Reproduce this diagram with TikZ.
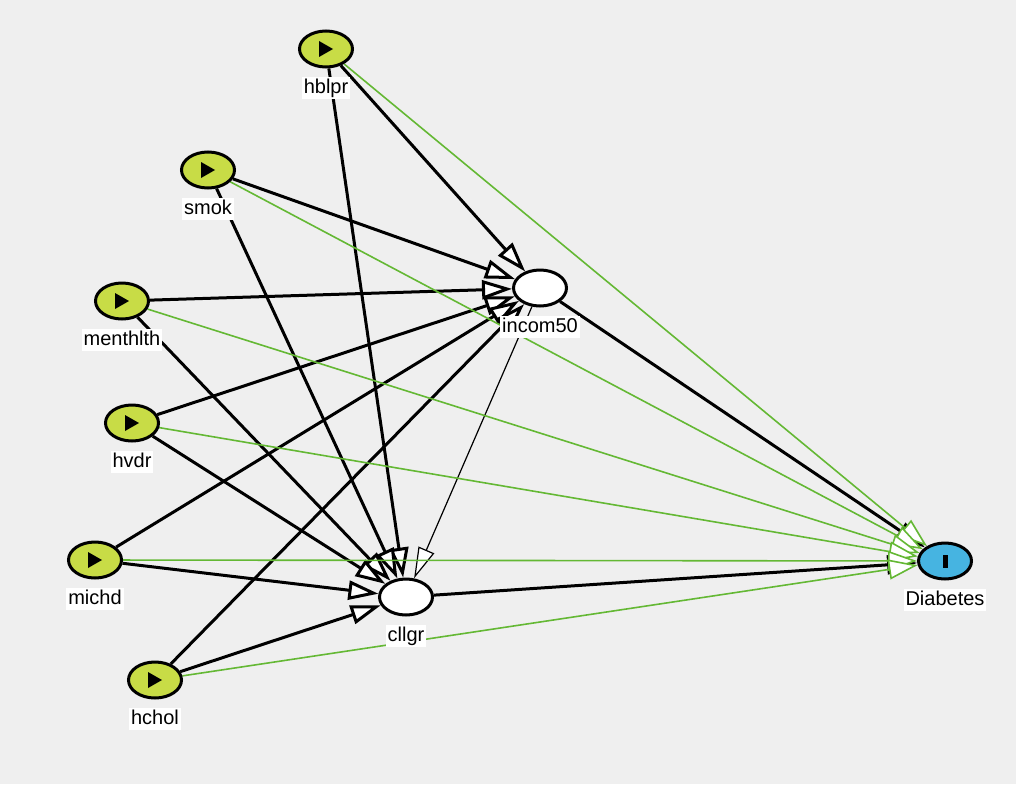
\documentclass[tikz,border=0pt]{standalone}
\usepackage{fontspec}
\setsansfont{Liberation Sans}
\usetikzlibrary{arrows.meta,positioning,shapes.geometric,backgrounds}
\definecolor{canvas}{RGB}{239,239,239}
\definecolor{expo}{RGB}{200,220,70}
\definecolor{outc}{RGB}{70,180,225}
\definecolor{pathgreen}{RGB}{100,184,52}

\begin{document}
\begin{tikzpicture}[x=1pt, y=-1pt, font=\sffamily\fontsize{20}{24}\selectfont,
  v/.style={ellipse, draw=black, line width=3pt, fill=white, minimum width=53pt, minimum height=36pt, inner sep=0pt},
  ex/.style={v, fill=expo, path picture={\fill[black] (path picture bounding box.center) ++(-7pt,8pt) -- ++(14pt,-8pt) -- ++(-14pt,-8pt) -- cycle;}},
  oc/.style={v, fill=outc, path picture={\fill[black] ([xshift=-2.5pt,yshift=-6.5pt]path picture bounding box.center) rectangle ++(5pt,13pt);}},
  lbl/.style={fill=white, text=black, inner xsep=2pt, inner ysep=1pt, text height=16pt, text depth=4pt},
  ar/.style={-{Triangle[length=30pt,width=19pt,fill=white]}, line width=3pt, draw=black},
  gr/.style={-{Triangle[length=29pt,width=20pt,fill=white]}, line width=1.6pt, draw=pathgreen},
  th/.style={-{Triangle[length=31pt,width=17pt,fill=white]}, line width=1.2pt, draw=black}]
\begin{scope}[on background layer]
\fill[canvas] (0,0) rectangle (1016,784);
\end{scope}
\useasboundingbox (0,0) rectangle (1016,784);
% exposures
\node[ex] (hblpr) at (326,49) {};
\node[ex] (smok) at (208,170) {};
\node[ex] (menthlth) at (122,301) {};
\node[ex] (hvdr) at (132,423) {};
\node[ex] (michd) at (95,560) {};
\node[ex] (hchol) at (155,680) {};
% mediators and outcome
\node[v] (incom) at (540,288) {};
\node[v] (cllgr) at (406,597) {};
\node[oc] (diab) at (945,561) {};
% labels
\node[lbl, below=8pt of hblpr] (hblpr-l) {hblpr};
\node[lbl, below=8pt of smok] (smok-l) {smok};
\node[lbl, below=8pt of menthlth] (menthlth-l) {menthlth};
\node[lbl, below=8pt of hvdr] (hvdr-l) {hvdr};
\node[lbl, below=8pt of michd] (michd-l) {michd};
\node[lbl, below=8pt of hchol] (hchol-l) {hchol};
\node[lbl, below=8pt of incom] (incom-l) {incom50};
\node[lbl, below=8pt of cllgr] (cllgr-l) {cllgr};
\node[lbl, below=8pt of diab] (diab-l) {Diabetes};
\begin{scope}[on background layer]
\foreach \s in {hblpr,smok,menthlth,hvdr,michd,hchol} {
  \draw[ar] (\s) -- (incom);
  \draw[ar] (\s) -- (cllgr);
}
\draw[th] (incom) -- (cllgr);
\draw[ar] (incom) -- (diab);
\draw[ar] (cllgr) -- (diab);
\foreach \s in {hblpr,smok,menthlth,hvdr,michd,hchol}
  \draw[gr] (\s) -- (diab);
\end{scope}
\end{tikzpicture}
\end{document}
